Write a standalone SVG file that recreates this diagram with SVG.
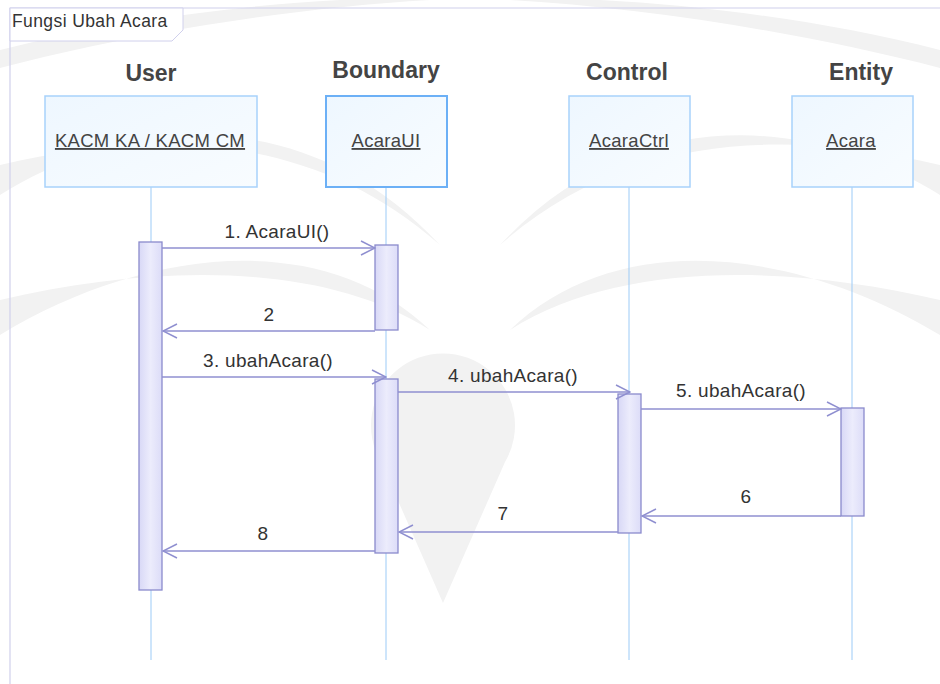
<svg xmlns="http://www.w3.org/2000/svg" width="940" height="684" viewBox="0 0 940 684">
<defs>
<linearGradient id="headFill" x1="0" y1="0" x2="1" y2="1">
<stop offset="0" stop-color="#eef7ff"/>
<stop offset="1" stop-color="#f8fcff"/>
</linearGradient>
<linearGradient id="actFill" x1="0" y1="0" x2="1" y2="0">
<stop offset="0" stop-color="#d8d8f6"/>
<stop offset="0.5" stop-color="#ececfc"/>
<stop offset="1" stop-color="#dcdcf8"/>
</linearGradient>
<marker id="open" viewBox="0 0 16 16" refX="15" refY="8" markerWidth="16" markerHeight="16" markerUnits="userSpaceOnUse" orient="auto">
<path d="M1 1 L15 8 L1 15" fill="none" stroke="#8f8fd0" stroke-width="1.5"/>
</marker>
</defs>
<style>
.wm{fill:#f2f2f2}
.frame{fill:none;stroke:#d0d0ec;stroke-width:1.2}
.tab{fill:#ffffff;stroke:#d0d0ec;stroke-width:1}
.ttl{font-family:"Liberation Sans",Arial,sans-serif;font-size:17.5px;letter-spacing:0.4px;fill:#333}
.role{font-family:"Liberation Sans",Arial,sans-serif;font-size:23px;font-weight:bold;fill:#444;text-anchor:middle}
.head{fill:url(#headFill);stroke:#a8d2fb;stroke-width:1.5}
.headB{fill:url(#headFill);stroke:#6cb0f6;stroke-width:2}
.hl{font-family:"Liberation Sans",Arial,sans-serif;font-size:18.5px;letter-spacing:0.3px;fill:#444;text-anchor:middle;text-decoration:underline}
.life{stroke:#9ccbf7;stroke-width:1}
.act{fill:url(#actFill);stroke:#8a8acc;stroke-width:1.3}
.msg{stroke:#8f8fd0;stroke-width:1.6;fill:none;marker-end:url(#open)}
.ml{font-family:"Liberation Sans",Arial,sans-serif;font-size:19px;letter-spacing:0.3px;fill:#333;text-anchor:middle}
</style>
<rect width="940" height="684" fill="#ffffff"/>
<g id="watermark">
<path class="wm" d="M0 50 C110 22 230 6 340 0 L430 0 C290 8 130 34 0 68 Z"/>
<path class="wm" d="M940 50 C830 22 710 6 600 0 L510 0 C650 8 810 34 940 68 Z"/>
<path class="wm" d="M0 195 C120 120 300 95 440 245 C310 130 150 130 0 165 Z"/>
<path class="wm" d="M940 195 C820 120 640 95 500 245 C630 130 790 130 940 165 Z"/>
<path class="wm" d="M0 335 C140 250 320 225 430 330 C320 260 150 265 0 300 Z"/>
<path class="wm" d="M940 335 C800 250 620 225 510 330 C620 260 790 265 940 300 Z"/>
<path class="wm" d="M443 603 L381 462 A72 72 0 1 1 505 462 Z"/>
</g>
<g id="frame">
<path class="frame" d="M10 684 L10 8 L940 8"/>
<path class="tab" d="M10 8 L183 8 L183 30 L172 41 L10 41 Z"/>
<text class="ttl" x="12" y="27">Fungsi Ubah Acara</text>
</g>
<g id="lifelines">
<line class="life" x1="151" y1="187" x2="151" y2="660"/>
<line class="life" x1="386" y1="187" x2="386" y2="660"/>
<line class="life" x1="629" y1="187" x2="629" y2="660"/>
<line class="life" x1="852" y1="187" x2="852" y2="660"/>
</g>
<g id="user">
<text class="role" x="151" y="81">User</text>
<rect class="head" x="45" y="96" width="212" height="91"/>
<text class="hl" x="150" y="147">KACM KA / KACM CM</text>
</g>
<g id="boundary">
<text class="role" x="386" y="78">Boundary</text>
<rect class="headB" x="326" y="96" width="121" height="91"/>
<text class="hl" x="386" y="147">AcaraUI</text>
</g>
<g id="control">
<text class="role" x="627" y="80">Control</text>
<rect class="head" x="569" y="96" width="121" height="91"/>
<text class="hl" x="629" y="147">AcaraCtrl</text>
</g>
<g id="entity">
<text class="role" x="861" y="80">Entity</text>
<rect class="head" x="792" y="96" width="121" height="91"/>
<text class="hl" x="851" y="147">Acara</text>
</g>
<g id="activations">
<rect class="act" x="139" y="242" width="23" height="348"/>
<rect class="act" x="375" y="245" width="23" height="85"/>
<rect class="act" x="375" y="379" width="23" height="174"/>
<rect class="act" x="618" y="394" width="23" height="139"/>
<rect class="act" x="841" y="408" width="23" height="108"/>
</g>
<g id="connectors">
<line class="msg" x1="162" y1="248" x2="375" y2="248"/>
<line class="msg" x1="375" y1="331" x2="163" y2="331"/>
<line class="msg" x1="162" y1="377" x2="386" y2="377"/>
<line class="msg" x1="398" y1="392" x2="630" y2="392"/>
<line class="msg" x1="641" y1="409" x2="841" y2="409"/>
<line class="msg" x1="841" y1="516" x2="642" y2="516"/>
<line class="msg" x1="618" y1="532" x2="399" y2="532"/>
<line class="msg" x1="375" y1="551" x2="163" y2="551"/>
<text class="ml" x="277" y="238">1. AcaraUI()</text>
<text class="ml" x="269" y="321">2</text>
<text class="ml" x="268" y="367">3. ubahAcara()</text>
<text class="ml" x="513" y="382">4. ubahAcara()</text>
<text class="ml" x="741" y="397">5. ubahAcara()</text>
<text class="ml" x="746" y="503">6</text>
<text class="ml" x="503" y="520">7</text>
<text class="ml" x="263" y="540">8</text>
</g>
</svg>
